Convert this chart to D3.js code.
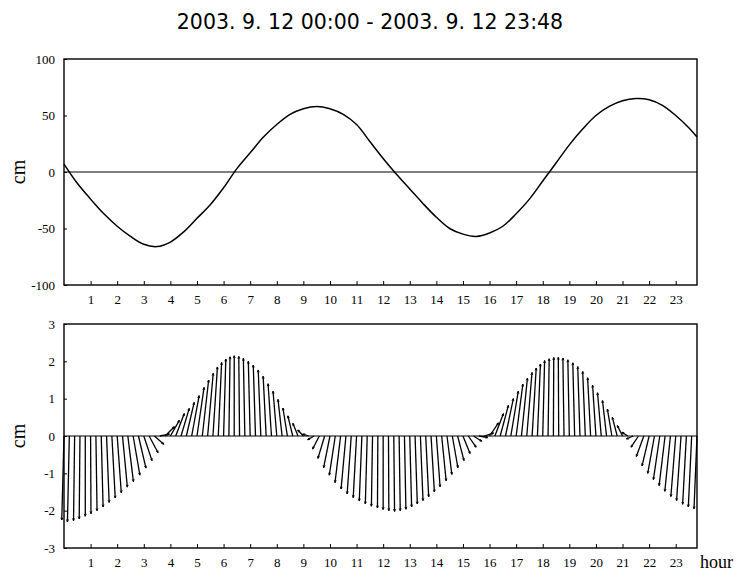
<!DOCTYPE html>
<html>
<head>
<meta charset="utf-8">
<script src="https://cdn.jsdelivr.net/npm/d3@7"></script>
<style>
body { margin: 0; background: #fff; }
text { fill: #000; }
</style>
</head>
<body>
<div id="chart"></div>
<script>
var width = 738;
var height = 572;

// tide elevation (cm), every half hour
var tideHours = [0, 0.5, 1, 1.5, 2, 2.5, 3, 3.5, 4, 4.5, 5, 5.5, 6, 6.5, 7, 7.5, 8, 8.5, 9, 9.5,
  10, 10.5, 11, 11.5, 12, 12.5, 13, 13.5, 14, 14.5, 15, 15.5, 16, 16.5, 17, 17.5, 18, 18.5, 19, 19.5,
  20, 20.5, 21, 21.5, 22, 22.5, 23, 23.5, 23.8];
var tideValues = [7, -10, -24, -37, -48, -57, -64, -66, -62, -53, -41, -29, -14, 3, 17, 31, 42, 51, 56, 58,
  56, 51, 42, 27, 12, -2, -15, -28, -40, -50, -55, -57, -54, -48, -37, -24, -8, 8, 24, 38,
  50, 58, 63, 65, 64, 59, 50, 39, 31];

// current sticks, every 12 minutes from 00:00 to 23:48
var stickV = [
  -2.25, -2.3, -2.27, -2.22, -2.15, -2.08, -2.0, -1.9, -1.78, -1.66, -1.52, -1.37, -1.22, -1.05, -0.86, -0.66, -0.45, -0.22,
  0.05, 0.25, 0.42, 0.6, 0.74, 0.9, 1.08, 1.3, 1.5, 1.68, 1.85, 1.97, 2.06, 2.12, 2.15, 2.13, 2.08, 2.0, 1.9, 1.77, 1.6, 1.4, 1.2, 0.98, 0.75, 0.54, 0.34, 0.16, 0.05,
  -0.1, -0.35, -0.6, -0.85, -1.05, -1.25, -1.42, -1.55, -1.65, -1.74, -1.82, -1.88, -1.93, -1.97, -2.0, -2.02, -2.0, -1.96, -1.9, -1.82, -1.73, -1.63, -1.5, -1.36, -1.2, -1.03, -0.85, -0.66, -0.47, -0.3, -0.14, -0.04,
  0.08, 0.35, 0.6, 0.82, 1.0, 1.2, 1.39, 1.55, 1.7, 1.82, 1.93, 2.02, 2.07, 2.1, 2.11, 2.09, 2.04, 1.96, 1.86, 1.73, 1.56, 1.36, 1.16, 0.95, 0.72, 0.5, 0.28, 0.1,
  -0.08, -0.3, -0.55, -0.8, -1.0, -1.17, -1.33, -1.48, -1.62, -1.73, -1.83, -1.9, -1.95
];
var stickU = [
  -0.06, -0.05, -0.03, -0.02, 0.0, 0.01, 0.03, 0.05, 0.07, 0.09, 0.11, 0.13, 0.15, 0.18, 0.2, 0.22, 0.24, 0.25,
  0.26, 0.25, 0.24, 0.23, 0.22, 0.21, 0.2, 0.19, 0.17, 0.15, 0.12, 0.09, 0.06, 0.03, 0.0, -0.02, -0.04, -0.05, -0.06, -0.07, -0.08, -0.09, -0.1, -0.11, -0.12, -0.13, -0.14, -0.15, -0.16,
  -0.17, -0.18, -0.18, -0.17, -0.16, -0.15, -0.13, -0.11, -0.09, -0.07, -0.05, -0.03, -0.01, 0.0, 0.01, 0.02, 0.03, 0.04, 0.05, 0.06, 0.07, 0.08, 0.09, 0.1, 0.12, 0.13, 0.15, 0.17, 0.19, 0.21, 0.22, 0.24,
  0.25, 0.24, 0.23, 0.22, 0.21, 0.2, 0.18, 0.16, 0.14, 0.11, 0.08, 0.05, 0.03, 0.01, -0.01, -0.03, -0.04, -0.05, -0.06, -0.07, -0.08, -0.09, -0.1, -0.11, -0.12, -0.13, -0.14, -0.16,
  -0.18, -0.2, -0.2, -0.19, -0.18, -0.17, -0.16, -0.15, -0.13, -0.12, -0.1, -0.09, -0.08
];
var stickHours = d3.range(stickV.length).map(function (i) { return i * 0.2; });

var hourTicks = d3.range(1, 24);
var tideTicks = [-100, -50, 0, 50, 100];
var currentTicks = [-3, -2, -1, 0, 1, 2, 3];

var svg = d3.select("#chart")
  .append("svg")
  .attr("width", width)
  .attr("height", height);

svg.append("text")
  .attr("x", 370)
  .attr("y", 29)
  .attr("text-anchor", "middle")
  .style("font-family", "DejaVu Sans")
  .style("font-size", "20.5px")
  .text("2003. 9. 12 00:00 - 2003. 9. 12 23:48");

var left = 64, right = 697;
var x = d3.scaleLinear().domain([0, 23.8]).range([left, right]);

function panel(top, bottom, yDomain, yTicks) {
  var y = d3.scaleLinear().domain(yDomain).range([bottom, top]);
  var g = svg.append("g");

  g.append("g")
    .attr("transform", "translate(0," + bottom + ")")
    .call(d3.axisBottom(x).tickValues(hourTicks).tickSizeInner(-4).tickSizeOuter(0).tickPadding(10))
    .call(function (a) { a.select(".domain").remove(); })
    .selectAll("text")
    .style("font-family", "Liberation Serif")
    .style("font-size", "13px");

  g.append("g")
    .attr("transform", "translate(" + left + ",0)")
    .call(d3.axisLeft(y).tickValues(yTicks).tickSizeInner(-3).tickSizeOuter(0).tickPadding(9)
      .tickFormat(function (d) { return String(d); }))
    .call(function (a) { a.select(".domain").remove(); })
    .selectAll("text")
    .style("font-family", "Liberation Serif")
    .style("font-size", "13px");

  g.append("line")
    .attr("x1", left).attr("x2", right)
    .attr("y1", y(0)).attr("y2", y(0))
    .attr("stroke", "#000").attr("stroke-width", 1.2);

  g.append("rect")
    .attr("x", left).attr("y", top)
    .attr("width", right - left).attr("height", bottom - top)
    .attr("fill", "none").attr("stroke", "#000").attr("stroke-width", 1.4);

  g.append("text")
    .attr("transform", "translate(25," + ((top + bottom) / 2) + ") rotate(-90)")
    .attr("text-anchor", "middle")
    .style("font-family", "Liberation Serif")
    .style("font-size", "20px")
    .text("cm");

  return y;
}

// top: tide
var y1 = panel(59, 285, [-100, 100], tideTicks);
var line = d3.line()
  .x(function (d) { return x(d[0]); })
  .y(function (d) { return y1(d[1]); })
  .curve(d3.curveCatmullRom);
svg.append("path")
  .datum(d3.zip(tideHours, tideValues))
  .attr("d", line)
  .attr("fill", "none")
  .attr("stroke", "#000")
  .attr("stroke-width", 1.5);

// bottom: current stick plot
var y2 = panel(324, 548, [-3, 3], currentTicks);
var pxPerCm = y2(0) - y2(1);
var sticks = svg.append("g").attr("class", "sticks");
stickHours.forEach(function (t, i) {
  var x0 = x(t), yb = y2(0);
  var xt = x0 + stickU[i] * pxPerCm, yt = y2(stickV[i]);
  sticks.append("line")
    .attr("x1", x0).attr("y1", yb)
    .attr("x2", xt).attr("y2", yt)
    .attr("stroke", "#000").attr("stroke-width", 1.3);
  var ang = Math.atan2(yt - yb, xt - x0);
  var h = 2.5;
  [0.4, -0.4].forEach(function (da) {
    sticks.append("line")
      .attr("x1", xt).attr("y1", yt)
      .attr("x2", xt - h * Math.cos(ang + da))
      .attr("y2", yt - h * Math.sin(ang + da))
      .attr("stroke", "#000").attr("stroke-width", 0.9);
  });
});

svg.append("text")
  .attr("x", 700)
  .attr("y", 568)
  .style("font-family", "Liberation Serif")
  .style("font-size", "18px")
  .text("hour");
</script>
</body>
</html>
